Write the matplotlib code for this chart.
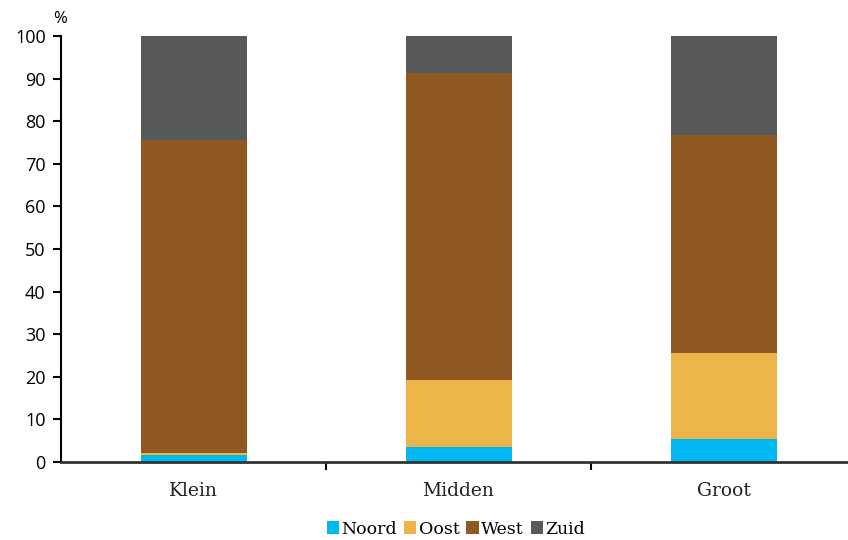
import numpy as np
import matplotlib.pyplot as plt

# data (percent shares)
categories = ['Klein', 'Midden', 'Groot']
series = ['Noord', 'Oost', 'West', 'Zuid']
noord = [1.6, 3.6, 5.3]
oost = [0.5, 15.7, 20.4]
west = [73.6, 72.0, 51.0]
zuid = [24.3, 8.7, 23.3]
colors = ['#00B9F1', '#ECB54A', '#8F5921', '#58595B']

fig = plt.figure(figsize=(8.48, 5.4), dpi=100)
ax = fig.add_axes([61/848, 78/540, 795/848, 426/540])

x = np.arange(len(categories))
bottom = np.zeros(len(categories))
for name, vals, c in zip(series, [noord, oost, west, zuid], colors):
    ax.bar(x, vals, width=0.4, bottom=bottom, color=c, label=name, zorder=2)
    bottom += np.array(vals)

ax.set_xlim(-0.5, 2.5)
ax.set_ylim(0, 100)
ax.set_yticks(range(0, 101, 10))
ax.tick_params(axis='y', direction='out', length=6, width=1.5, labelsize=13, pad=5)
for lbl in ax.get_yticklabels():
    lbl.set_fontfamily('Open Sans')

# category labels between boundary ticks
ax.set_xticks([0.5, 1.5])
ax.set_xticklabels([])
ax.tick_params(axis='x', direction='out', length=6, width=1.5)
for i, cat in enumerate(categories):
    ax.text(i, -4.6, cat, ha='center', va='top', fontsize=13.5, family='DejaVu Serif', color='#222222')

ax.spines['top'].set_visible(False)
ax.spines['right'].set_visible(False)
ax.spines['left'].set_linewidth(1.5)
ax.spines['bottom'].set_linewidth(2)
ax.spines['bottom'].set_color('#333333')

fig.text(53/848, 1 - 19/540, '%', fontsize=12, family='Open Sans', va='center')

leg = fig.legend(loc='center', bbox_to_anchor=(456/848, 1 - 529/540), ncol=4, frameon=False,
                 handlelength=0.7, handleheight=0.7, handletextpad=0.15, columnspacing=0.4,
                 prop={'family': 'DejaVu Serif', 'size': 12.5})

fig.savefig('out.png', dpi=100)
